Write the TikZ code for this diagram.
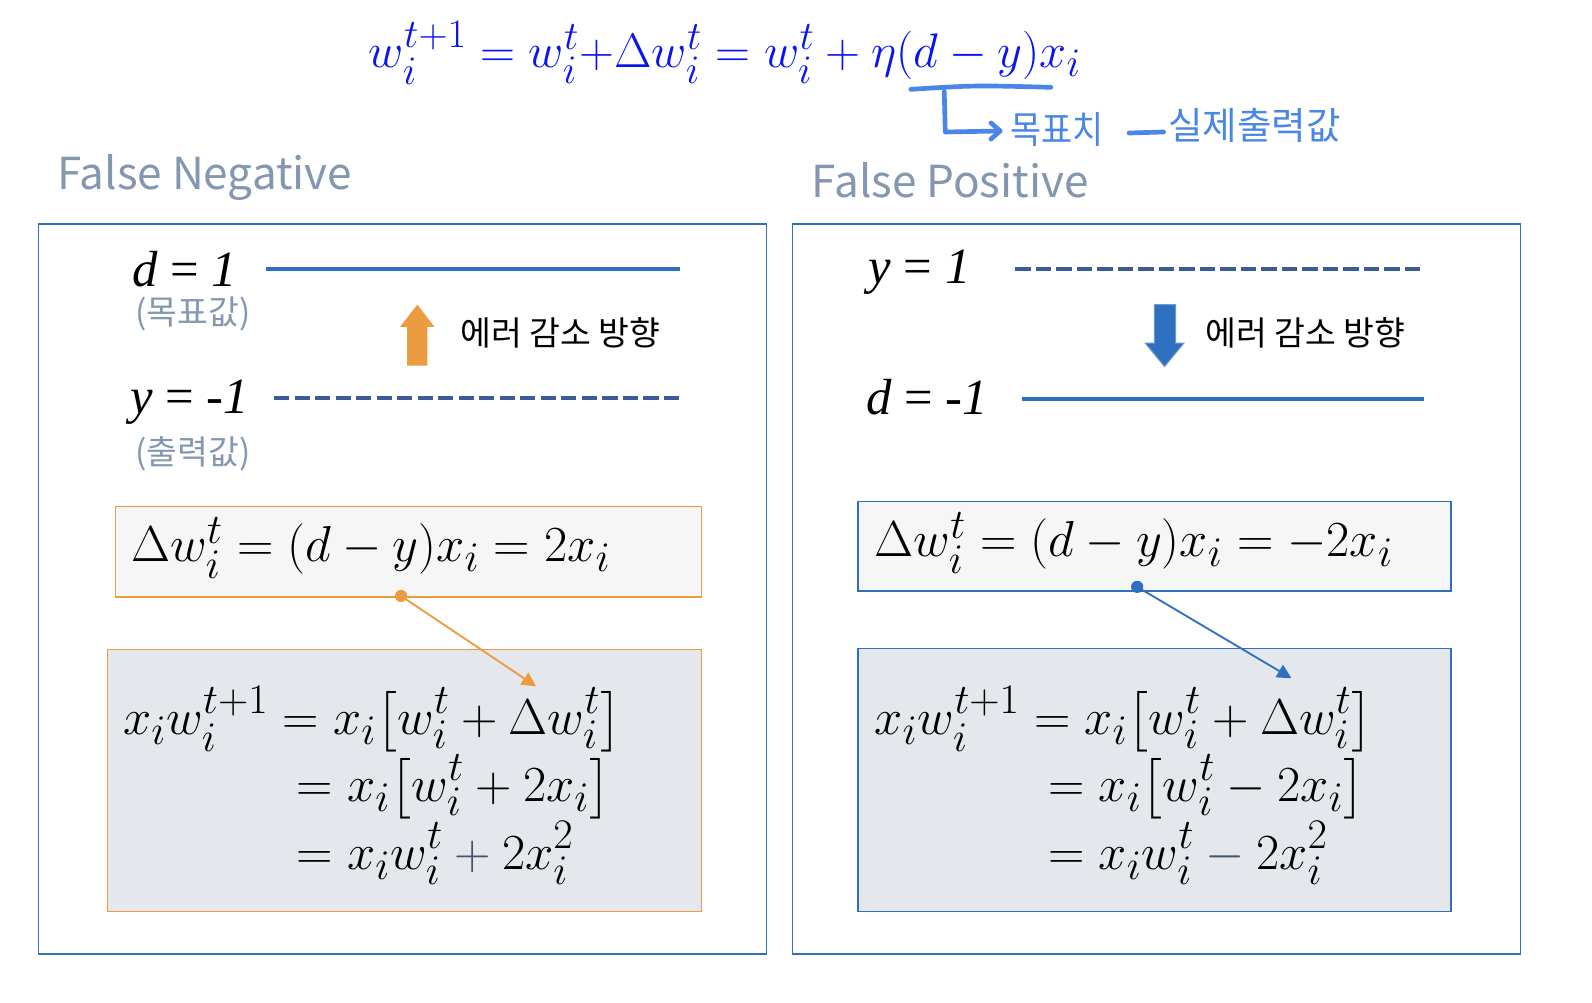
\documentclass[tikz,border=0pt]{standalone}
\usepackage{amsmath}
\usepackage[no-math]{fontspec}
\newfontfamily\kr{Noto Sans CJK KR}
\newfontfamily\tnr{Liberation Serif}
\usetikzlibrary{arrows.meta}
\definecolor{hdgray}{HTML}{8497B0}
\definecolor{lineblue}{HTML}{2F6FBF}
\definecolor{dashblue}{HTML}{3C5A98}
\definecolor{orangeC}{HTML}{ED9B40}
\definecolor{lightfill}{HTML}{F6F6F6}
\definecolor{grayfill}{HTML}{E4E7EB}
\definecolor{handblue}{HTML}{4A86E8}
\definecolor{topblue}{HTML}{0A14F0}
\definecolor{plusgray}{HTML}{44546A}
\tikzset{
  panel/.style={draw=lineblue, line width=0.7pt, anchor=north west, inner sep=0pt},
  fbox/.style={line width=0.8pt, anchor=north west, inner sep=0pt},
  mathtxt/.style={inner sep=0pt, anchor=base west, font=\fontsize{24.88}{30}\selectfont},
  heading/.style={inner sep=0pt, anchor=west, text=hdgray, font=\kr\fontsize{21.7}{26}\selectfont},
  sublabel/.style={inner sep=0pt, anchor=base west, text=hdgray, font=\kr\fontsize{16.5}{19}\selectfont},
  errtxt/.style={inner sep=0pt, anchor=west, font=\kr\fontsize{16.5}{19}\selectfont},
  varlabel/.style={inner sep=0pt, anchor=base west, font=\tnr\fontsize{25}{29}\selectfont},
  solidline/.style={draw=lineblue, line width=2pt},
  dashline/.style={draw=dashblue, line width=2pt, dash pattern=on 7.5pt off 2.6pt},
  hand/.style={draw=handblue, line width=2.3pt, line cap=round, line join=round},
  handtxt/.style={inner sep=0pt, anchor=west, text=handblue, font=\kr\fontsize{18.5}{22}\selectfont},
}
\begin{document}
\begin{tikzpicture}[x=0.5pt,y=-0.5pt]
\useasboundingbox (0,0) rectangle (1568,987);
\fill[white] (0,0) rectangle (1568,987);

% top formula
\node[mathtxt, text=topblue] (topeq) at (363,66) {\scalebox{0.96}{$w_i^{t+1} = w_i^t{+}\Delta w_i^t = w_i^t + \eta(d-y)x_i$}};

% handwritten annotation
\draw[hand] (897,88) .. controls (960,84) .. (1035,86);
\coordinate (hstart) at (930,90);
\coordinate (hend) at (985,129);
\draw[hand] (hstart) -- (931,130) -- (hend);
\draw[hand] (976,121) -- (hend) -- (976,137);
\node[handtxt] (goal) at (995,127) {\scalebox{0.9}[1]{목표치}};
\draw[hand] (1112,131) -- (1146,130);
\node[handtxt] (actual) at (1150,123) {실제출력값};

% headings
\node[heading] (fn) at (56,175) {False Negative};
\node[heading] (fp) at (799,178) {False Positive};

% panels
\node[panel, minimum width=358.5pt, minimum height=359.5pt] (lpanel) at (37,220) {};
\node[panel, minimum width=358.5pt, minimum height=359.5pt] (rpanel) at (780,220) {};

% ---------- left panel ----------
\node[varlabel] (dL) at (130,282) {\itshape d \upshape= \itshape 1};
\draw[solidline] (262,265) -- (670,265);
\node[sublabel] (goalL) at (133,320) {(목표값)};
\fill[orangeC] (401,360) -- (401,322) -- (394,322) -- (411,300) -- (428,322) -- (421,322) -- (421,360) -- cycle;
\node[errtxt] (errL) at (453,328) {에러 감소 방향};
\node[varlabel] (yL) at (128,407) {\itshape y \upshape= \itshape -1};
\draw[dashline] (270,392) -- (670,392);
\node[sublabel] (outL) at (133,457) {(출력값)};

\node[fbox, draw=orangeC, fill=lightfill, minimum width=288.5pt, minimum height=44.5pt] (lbox) at (113,498) {};
\node[mathtxt] (leq) at (129,553) {$\Delta w_i^t = (d-y)x_i = 2x_i$};

\node[fbox, draw=orangeC, fill=grayfill, minimum width=292.5pt, minimum height=129pt] (lgbox) at (105,639) {};
\node[mathtxt, anchor=west] (lg) at (121,775) {\setlength{\jot}{0pt}$\begin{aligned}
  x_iw_i^{t+1} &= x_i\big[w_i^t + \Delta w_i^t\big]\\
  &\hskip7pt= x_i\big[w_i^t + 2x_i\big]\\
  &\hskip7pt= x_iw_i^t \mathbin{\color{plusgray}+} 2x_i^2
\end{aligned}$};

\coordinate (dotL) at (395,587);
\coordinate (tipL) at (528,676);
\fill[orangeC] (dotL) circle[radius=3pt];
\draw[orangeC, line width=0.9pt, -{Triangle[length=7pt,width=7pt]}] (dotL) -- (tipL);

% ---------- right panel ----------
\node[varlabel] (yR) at (855,279) {\itshape y \upshape= \itshape 1};
\draw[dashline] (1000,265) -- (1403,265);
\fill[lineblue, draw=lineblue!70!white, line width=0.5pt] (1137,300) -- (1158,300) -- (1158,338) -- (1166,338) -- (1147,361) -- (1128,338) -- (1137,338) -- cycle;
\node[errtxt] (errR) at (1187,328) {에러 감소 방향};
\node[varlabel] (dR) at (853,408) {\itshape d \upshape= \itshape -1};
\draw[solidline] (1007,393) -- (1403,393);

\node[fbox, draw=lineblue, fill=lightfill, minimum width=292pt, minimum height=44pt] (rbox) at (844,493) {};
\node[mathtxt] (req) at (861,548) {$\Delta w_i^t = (d-y)x_i = -2x_i$};

\node[fbox, draw=lineblue, fill=grayfill, minimum width=292pt, minimum height=129.5pt] (rgbox) at (844,638) {};
\node[mathtxt, anchor=west] (rg) at (861,775) {\setlength{\jot}{0pt}$\begin{aligned}
  x_iw_i^{t+1} &= x_i\big[w_i^t + \Delta w_i^t\big]\\
  &\hskip7pt= x_i\big[w_i^t - 2x_i\big]\\
  &\hskip7pt= x_iw_i^t \mathbin{\color{plusgray}-} 2x_i^2
\end{aligned}$};

\coordinate (dotR) at (1120,578);
\coordinate (tipR) at (1272,668);
\fill[lineblue] (dotR) circle[radius=3pt];
\draw[lineblue, line width=0.9pt, -{Triangle[length=7pt,width=7pt]}] (dotR) -- (tipR);
\end{tikzpicture}
\end{document}
